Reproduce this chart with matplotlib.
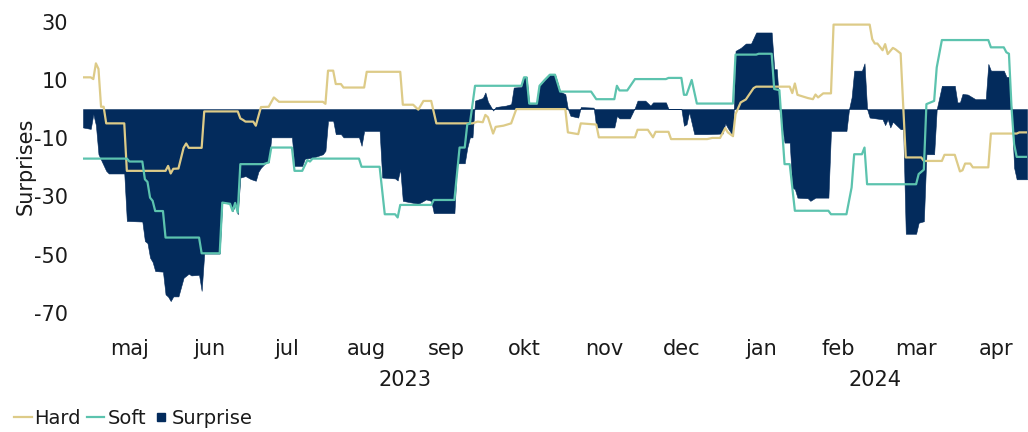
import matplotlib
matplotlib.use('Agg')
import matplotlib.pyplot as plt
import matplotlib.transforms as mtransforms
from matplotlib.lines import Line2D
import pandas as pd

# ---------------------------------------------------------------
# data
# ---------------------------------------------------------------
hard_dates = ['2023-04-28','2023-05-01','2023-05-02','2023-05-03','2023-05-04','2023-05-05','2023-05-06',
              '2023-05-07','2023-05-14','2023-05-15','2023-05-30','2023-05-31','2023-06-01','2023-06-02',
              '2023-06-04','2023-06-06','2023-06-07','2023-06-08','2023-06-13','2023-06-14','2023-06-27',
              '2023-06-28','2023-06-29','2023-06-30','2023-07-03','2023-07-04','2023-07-06','2023-07-09',
              '2023-07-11','2023-07-13','2023-07-30','2023-07-31','2023-08-01','2023-08-03','2023-08-04',
              '2023-08-06','2023-08-07','2023-08-15','2023-08-16','2023-08-29','2023-08-30','2023-09-03',
              '2023-09-05','2023-09-07','2023-09-10','2023-09-12','2023-09-26','2023-09-28','2023-09-30',
              '2023-10-01','2023-10-02','2023-10-04','2023-10-05','2023-10-08','2023-10-11','2023-10-13',
              '2023-11-01','2023-11-02','2023-11-06','2023-11-07','2023-11-13','2023-11-14','2023-11-28',
              '2023-11-29','2023-12-03','2023-12-05','2023-12-06','2023-12-11','2023-12-12','2023-12-26',
              '2023-12-28','2023-12-31','2024-01-02','2024-01-03','2024-01-05','2024-01-06','2024-01-08',
              '2024-01-10','2024-01-13','2024-01-14','2024-01-27','2024-01-28','2024-01-29','2024-01-30',
              '2024-02-03','2024-02-05','2024-02-06','2024-02-07','2024-02-09','2024-02-12','2024-02-13',
              '2024-02-27','2024-02-28','2024-02-29','2024-03-01','2024-03-03','2024-03-04','2024-03-05',
              '2024-03-07','2024-03-08','2024-03-10','2024-03-12','2024-03-18','2024-03-19','2024-03-26',
              '2024-03-27','2024-03-31','2024-04-02','2024-04-03','2024-04-04','2024-04-06','2024-04-07',
              '2024-04-13','2024-04-14','2024-04-24','2024-04-25','2024-04-28']
hard_vals = [10.9,10.9,10.3,15.7,13.8,0.8,0.8,
             -4.9,-4.9,-21.2,-21.2,-19.5,-22.1,-20.5,
             -20.4,-13.3,-11.8,-13.3,-13.3,-0.8,-0.8,
             -3.2,-3.7,-4.3,-4.3,-5.7,0.7,0.8,
             4.0,2.5,2.5,1.8,13.2,13.2,8.6,
             8.6,7.4,7.4,12.8,12.8,1.5,1.5,
             -0.2,2.8,2.8,-4.9,-4.9,-4.3,-4.5,
             -2.0,-2.8,-8.4,-6.1,-5.7,-4.9,0.0,
             0.0,-8.0,-8.6,-4.9,-5.3,-9.7,-9.7,
             -7.1,-7.1,-9.7,-7.8,-7.8,-10.3,-10.3,
             -9.9,-9.9,-6.5,-8.0,-9.3,-1.7,2.3,
             3.3,7.2,7.7,7.7,5.5,8.8,4.9,
             3.8,3.4,5.0,4.0,5.4,5.4,29.0,
             29.0,24.0,22.5,22.5,20.2,22.3,18.9,
             21.0,20.5,19.1,-16.6,-16.6,-17.8,-17.8,
             -15.7,-15.7,-21.4,-21.0,-18.7,-18.7,-20.0,
             -20.0,-8.4,-8.4,-8.0,-8.0]

soft_dates = ['2023-04-28','2023-05-15','2023-05-16','2023-05-21','2023-05-22','2023-05-23','2023-05-24',
              '2023-05-25','2023-05-26','2023-05-29','2023-05-30','2023-06-12','2023-06-13','2023-06-20',
              '2023-06-21','2023-06-24','2023-06-25','2023-06-26','2023-06-27','2023-06-28','2023-07-07',
              '2023-07-09','2023-07-10','2023-07-18','2023-07-19','2023-07-22','2023-07-24','2023-07-25',
              '2023-07-26','2023-08-13','2023-08-14','2023-08-21','2023-08-23','2023-08-27','2023-08-28',
              '2023-08-29','2023-09-10','2023-09-11','2023-09-19','2023-09-21','2023-09-23','2023-09-24',
              '2023-09-25','2023-09-27','2023-10-15','2023-10-16','2023-10-17','2023-10-18','2023-10-21',
              '2023-10-22','2023-10-24','2023-10-26','2023-10-28','2023-10-30','2023-11-11','2023-11-13',
              '2023-11-20','2023-11-21','2023-11-22','2023-11-25','2023-11-28','2023-12-10','2023-12-11',
              '2023-12-16','2023-12-17','2023-12-18','2023-12-20','2023-12-22','2024-01-05','2024-01-06',
              '2024-01-14','2024-01-15','2024-01-20','2024-01-21','2024-01-23','2024-01-25','2024-01-27',
              '2024-01-29','2024-02-11','2024-02-12','2024-02-18','2024-02-20','2024-02-21','2024-02-24',
              '2024-02-25','2024-02-26','2024-03-16','2024-03-17','2024-03-19','2024-03-20','2024-03-23',
              '2024-03-24','2024-03-26','2024-04-13','2024-04-14','2024-04-19','2024-04-20','2024-04-21',
              '2024-04-22','2024-04-23','2024-04-24','2024-04-28']
soft_vals = [-17.0,-17.0,-18.0,-18.0,-24.1,-25.0,-30.4,
             -31.5,-35.0,-35.0,-44.1,-44.1,-49.5,-49.5,
             -32.1,-32.5,-35.0,-32.2,-35.5,-18.9,-18.9,
             -18.3,-13.2,-13.2,-21.2,-21.2,-17.5,-18.0,
             -17.0,-17.0,-19.8,-19.8,-36.1,-36.1,-37.2,
             -32.9,-32.9,-31.2,-31.2,-13.2,-13.2,-5.2,
             -5.0,8.0,8.0,10.9,10.9,1.9,1.9,
             8.0,10.0,11.8,11.8,6.0,6.0,3.4,
             3.4,8.0,6.4,6.4,10.3,10.3,10.7,
             10.7,4.9,4.9,10.0,1.9,1.9,18.7,
             18.7,19.0,19.0,6.9,6.5,-18.9,-18.9,
             -34.9,-34.9,-36.1,-36.1,-26.9,-15.5,-15.5,
             -13.2,-25.8,-25.8,-22.3,-20.8,1.7,2.8,
             14.3,23.7,23.7,21.2,21.2,19.5,19.0,
             0.6,-12.0,-16.4,-16.4]

surprise_dates = ['2023-04-28','2023-05-01','2023-05-02','2023-05-03','2023-05-04','2023-05-07','2023-05-08',
                  '2023-05-14','2023-05-15','2023-05-21','2023-05-22','2023-05-23','2023-05-24','2023-05-25',
                  '2023-05-26','2023-05-29','2023-05-30','2023-05-31','2023-06-01','2023-06-02','2023-06-04',
                  '2023-06-06','2023-06-08','2023-06-09','2023-06-12','2023-06-13','2023-06-14','2023-06-20',
                  '2023-06-21','2023-06-24','2023-06-25','2023-06-26','2023-06-27','2023-06-28','2023-06-30',
                  '2023-07-02','2023-07-04','2023-07-05','2023-07-06','2023-07-08','2023-07-09','2023-07-10',
                  '2023-07-18','2023-07-19','2023-07-22','2023-07-23','2023-07-26','2023-07-30','2023-07-31',
                  '2023-08-01','2023-08-03','2023-08-04','2023-08-06','2023-08-07','2023-08-13','2023-08-14',
                  '2023-08-15','2023-08-21','2023-08-22','2023-08-27','2023-08-28','2023-08-29','2023-08-30',
                  '2023-09-05','2023-09-08','2023-09-10','2023-09-11','2023-09-19','2023-09-20','2023-09-23',
                  '2023-09-24','2023-09-25','2023-09-26','2023-09-27','2023-09-30','2023-10-01','2023-10-02',
                  '2023-10-04','2023-10-05','2023-10-09','2023-10-11','2023-10-12','2023-10-15','2023-10-16',
                  '2023-10-17','2023-10-18','2023-10-21','2023-10-22','2023-10-24','2023-10-26','2023-10-28',
                  '2023-10-30','2023-11-01','2023-11-02','2023-11-03','2023-11-06','2023-11-07','2023-11-12',
                  '2023-11-13','2023-11-20','2023-11-21','2023-11-22','2023-11-26','2023-11-28','2023-11-29',
                  '2023-12-02','2023-12-04','2023-12-05','2023-12-10','2023-12-11','2023-12-16','2023-12-17',
                  '2023-12-18','2023-12-19','2023-12-21','2023-12-26','2024-01-01','2024-01-02','2024-01-03',
                  '2024-01-05','2024-01-06','2024-01-08','2024-01-10','2024-01-12','2024-01-14','2024-01-20',
                  '2024-01-21','2024-01-22','2024-01-23','2024-01-25','2024-01-27','2024-01-28','2024-01-29',
                  '2024-01-30','2024-02-03','2024-02-04','2024-02-06','2024-02-11','2024-02-12','2024-02-18',
                  '2024-02-19','2024-02-20','2024-02-21','2024-02-24','2024-02-25','2024-02-26','2024-02-27',
                  '2024-03-03','2024-03-04','2024-03-05','2024-03-06','2024-03-07','2024-03-08','2024-03-10',
                  '2024-03-11','2024-03-12','2024-03-16','2024-03-17','2024-03-19','2024-03-20','2024-03-23',
                  '2024-03-24','2024-03-25','2024-03-26','2024-03-31','2024-04-01','2024-04-02','2024-04-03',
                  '2024-04-05','2024-04-08','2024-04-12','2024-04-13','2024-04-14','2024-04-19','2024-04-20',
                  '2024-04-21','2024-04-22','2024-04-23','2024-04-24','2024-04-28']
surprise_vals = [-6.3,-6.8,-1.7,-5.5,-15.5,-21.2,-22.1,
                 -22.1,-38.4,-38.6,-45.3,-46.0,-51.0,-52.5,
                 -55.6,-55.8,-63.6,-64.4,-65.9,-64.3,-64.3,
                 -57.9,-56.5,-57.1,-56.9,-62.4,-49.6,-49.6,
                 -32.1,-32.5,-35.0,-33.0,-36.1,-23.5,-23.0,
                 -24.0,-24.6,-21.5,-20.1,-18.3,-18.3,-9.7,
                 -9.7,-19.5,-19.5,-17.0,-16.7,-15.5,-14.3,
                 -4.0,-4.0,-8.6,-8.6,-9.7,-9.7,-12.6,
                 -7.5,-7.5,-23.5,-23.8,-24.5,-20.6,-31.5,
                 -32.5,-31.0,-31.5,-35.7,-35.7,-18.6,-18.6,
                 -13.2,-9.7,-9.7,2.9,3.8,5.7,2.5,
                 -0.5,0.7,1.2,1.7,7.4,7.6,11.1,
                 11.1,1.7,1.7,8.0,10.0,12.0,12.0,
                 6.0,5.1,0.0,-2.3,-2.9,0.7,0.5,
                 -6.3,-6.3,-2.3,-3.2,-3.2,0.5,2.9,
                 2.9,1.2,2.3,2.3,0.0,0.0,-5.7,
                 -5.2,-1.0,-8.6,-8.6,-8.4,-4.9,-6.5,
                 -9.2,20.0,21.0,22.5,22.5,26.3,26.3,
                 13.7,13.7,0.0,-11.5,-11.5,-26.9,-27.5,
                 -30.4,-30.6,-31.5,-30.4,-30.4,-7.5,-7.5,
                 0.0,4.0,13.2,13.2,15.7,0.0,-2.9,
                 -3.5,-5.5,-3.5,-6.3,-4.3,-5.2,-6.9,
                 -6.9,-42.8,-42.8,-39.0,-38.5,-15.5,-15.5,
                 0.0,4.0,8.0,8.0,2.3,2.3,5.2,
                 5.0,3.4,3.4,15.5,13.2,13.2,11.1,
                 11.0,0.0,-20.1,-24.1,-24.1]

month_ticks = ['2023-05-16','2023-06-16','2023-07-16','2023-08-16','2023-09-16','2023-10-16',
               '2023-11-16','2023-12-16','2024-01-16','2024-02-15','2024-03-16','2024-04-16']
month_labels = ['maj','jun','jul','aug','sep','okt','nov','dec','jan','feb','mar','apr']
year_pos = ['2023-08-31','2024-02-29']
year_labels = ['2023','2024']
y_ticks = [30, 10, -10, -30, -50, -70]

HARD_C = '#DDCB88'
SOFT_C = '#5CC3AE'
NAVY = '#032B5C'

#---------------------------------------------------------------
fig = plt.figure(figsize=(10.28, 4.32), dpi=100)
ax = fig.add_axes([83/1028, 1-313/432, (1027-83)/1028, (313-21.7)/432])

sd = pd.to_datetime(surprise_dates)
ax.fill_between(sd, 0, surprise_vals, color=NAVY, linewidth=0.4, edgecolor=NAVY, zorder=1)
ax.plot(pd.to_datetime(hard_dates), hard_vals, color=HARD_C, lw=1.6, zorder=3)
ax.plot(pd.to_datetime(soft_dates), soft_vals, color=SOFT_C, lw=1.6, zorder=3)

ax.set_xlim(pd.Timestamp('2023-04-28'), pd.Timestamp('2024-04-28'))
ax.set_ylim(-70, 30)

ax.set_yticks(y_ticks)
ax.set_yticklabels([str(t) for t in y_ticks])
ax.set_xticks(pd.to_datetime(month_ticks))
ax.set_xticklabels(month_labels)
ax.tick_params(axis='y', length=0, pad=11, labelsize=15, colors='#1a1a1a')
ax.tick_params(axis='x', length=0, pad=19, labelsize=15, colors='#1a1a1a')
for s in ax.spines.values():
    s.set_visible(False)

trans = mtransforms.blended_transform_factory(ax.transData, ax.transAxes)
for pos, lab in zip(year_pos, year_labels):
    ax.text(pd.Timestamp(pos), -0.23, lab, transform=trans, ha='center', va='center',
            fontsize=15, color='#1a1a1a')

fig.text(26/1028, 1-166/432, 'Surprises', rotation=90, ha='center', va='center',
         fontsize=15, color='#1a1a1a')

handles = [Line2D([], [], color=HARD_C, lw=1.6),
           Line2D([], [], color=SOFT_C, lw=1.6),
           Line2D([], [], color=NAVY, marker='s', linestyle='None', markersize=6)]
fig.legend(handles, ['Hard', 'Soft', 'Surprise'], loc='lower left', bbox_to_anchor=(0.01, 0.0),
           ncol=3, frameon=False, fontsize=14, handlelength=0.9, handletextpad=0.15,
           columnspacing=0.3, borderaxespad=0.1, borderpad=0.1, labelcolor='#1a1a1a')

fig.savefig('out.png', dpi=100)
